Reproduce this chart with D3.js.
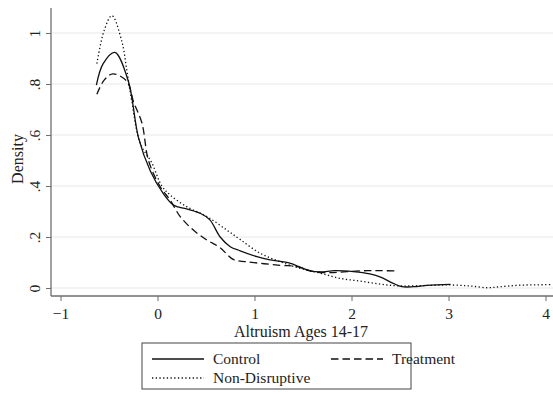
<!DOCTYPE html>
<html>
<head>
<meta charset="utf-8">
<script src="https://cdn.jsdelivr.net/npm/d3@7"></script>
<style>
  body { margin: 0; background: #fff; }
  svg { display: block; font-family: "Liberation Serif", "Times New Roman", serif; }
  svg text { font-family: "Liberation Serif", "Times New Roman", serif; }
</style>
</head>
<body>
<div id="chart"></div>
<script>
// Kernel density estimates (x = altruism score, y = density)
const controlX = [-0.63, -0.56, -0.44, -0.30, -0.196, -0.075, 0.06, 0.165, 0.30, 0.44, 0.54, 0.646, 0.75, 0.853, 1.025, 1.16, 1.37, 1.574, 1.68, 1.83, 2.02, 2.19, 2.30, 2.43, 2.52, 2.64, 2.78, 3.02];
const controlY = [0.796, 0.88, 0.924, 0.81, 0.59, 0.46, 0.37, 0.325, 0.31, 0.293, 0.267, 0.20, 0.162, 0.146, 0.123, 0.11, 0.097, 0.067, 0.063, 0.068, 0.064, 0.055, 0.043, 0.018, 0.005, 0.005, 0.01, 0.014];

const treatmentX = [-0.625, -0.55, -0.46, -0.315, -0.247, -0.16, -0.093, 0.028, 0.13, 0.234, 0.37, 0.51, 0.646, 0.78, 0.92, 1.265, 1.44, 1.61, 1.78, 1.95, 2.16, 2.30, 2.45];
const treatmentY = [0.76, 0.815, 0.84, 0.81, 0.73, 0.646, 0.50, 0.397, 0.345, 0.28, 0.227, 0.188, 0.158, 0.112, 0.103, 0.089, 0.084, 0.064, 0.06, 0.064, 0.068, 0.068, 0.067];

const nondisX = [-0.625, -0.55, -0.47, -0.367, -0.315, -0.264, -0.178, -0.058, 0.045, 0.13, 0.30, 0.51, 0.715, 0.853, 1.06, 1.265, 1.47, 1.68, 1.88, 2.09, 2.30, 2.50, 2.78, 3.02, 3.22, 3.40, 3.53, 3.74, 4.05];
const nondisY = [0.88, 1.01, 1.068, 0.966, 0.85, 0.73, 0.567, 0.49, 0.40, 0.365, 0.319, 0.28, 0.227, 0.19, 0.136, 0.103, 0.077, 0.058, 0.038, 0.027, 0.015, 0.008, 0.01, 0.012, 0.008, 0.001, 0.005, 0.011, 0.013];

const xTicks = [-1, 0, 1, 2, 3, 4];
const yTicks = [0, 0.2, 0.4, 0.6, 0.8, 1];
const yTickLabels = ["0", ".2", ".4", ".6", ".8", "1"];

const seriesNames = ["Control", "Treatment", "Non-Disruptive"];

const zip = (xs, ys) => xs.map((x, i) => ({ x: x, y: ys[i] }));
const series = [
    { name: seriesNames[0], values: zip(controlX, controlY), dash: null },
    { name: seriesNames[1], values: zip(treatmentX, treatmentY), dash: "7.5,4" },
    { name: seriesNames[2], values: zip(nondisX, nondisY), dash: "1.3,2.4" }
];

const dimensions = {
    width: 553,
    height: 394,
    margin: { top: 8, right: 0, bottom: 98, left: 51 }
};
dimensions.boundedWidth = dimensions.width - dimensions.margin.left - dimensions.margin.right;
dimensions.boundedHeight = dimensions.height - dimensions.margin.top - dimensions.margin.bottom;

const svg = d3.select("#chart").append("svg")
    .attr("width", dimensions.width)
    .attr("height", dimensions.height);

const bounds = svg.append("g")
    .attr("transform", `translate(${dimensions.margin.left}, ${dimensions.margin.top})`);

// scales: -1 at px 60.5, 4 at px 545.5 ; 0 at px 288, 1 at px 33
const xScale = d3.scaleLinear()
    .domain([-1, 4])
    .range([60.5 - dimensions.margin.left, 545.5 - dimensions.margin.left]);

const yScale = d3.scaleLinear()
    .domain([0, 1])
    .range([288 - dimensions.margin.top, 33 - dimensions.margin.top]);

// grid lines
bounds.append("g")
    .selectAll("line")
    .data(yTicks)
    .join("line")
    .attr("x1", 0)
    .attr("x2", dimensions.boundedWidth)
    .attr("y1", d => yScale(d))
    .attr("y2", d => yScale(d))
    .attr("stroke", "#e8e8e8")
    .attr("stroke-width", 1.2);

// curves
const lineGenerator = d3.line()
    .x(d => xScale(d.x))
    .y(d => yScale(d.y))
    .curve(d3.curveCatmullRom.alpha(0.5));

bounds.selectAll(".curve")
    .data(series)
    .join("path")
    .attr("class", "curve")
    .attr("d", d => lineGenerator(d.values))
    .attr("fill", "none")
    .attr("stroke", "#111")
    .attr("stroke-width", 1.3)
    .attr("stroke-dasharray", d => d.dash);

// axes
const axisColor = "#6e6e6e";
const fontFam = "Liberation Serif, Times New Roman, serif";

const yAxis = bounds.append("g")
    .call(d3.axisLeft(yScale).tickValues(yTicks).tickSize(5).tickPadding(6)
        .tickFormat((d, i) => yTickLabels[i]))
    .attr("font-family", fontFam);
yAxis.select(".domain").remove();
yAxis.selectAll(".tick line").attr("stroke", axisColor);
yAxis.selectAll(".tick text")
    .attr("font-size", 15.5)
    .attr("fill", "#222")
    .attr("text-anchor", "middle")
    .attr("transform", "rotate(-90)")
    .attr("x", 0)
    .attr("y", -11)
    .attr("dy", "0");

const xAxis = bounds.append("g")
    .attr("transform", `translate(0, ${dimensions.boundedHeight})`)
    .call(d3.axisBottom(xScale).tickValues(xTicks).tickSize(5).tickPadding(6.5)
        .tickFormat(d3.format("d")))
    .attr("font-family", fontFam);
xAxis.select(".domain").remove();
xAxis.selectAll(".tick line").attr("stroke", axisColor);
xAxis.selectAll(".tick text").attr("font-size", 15.5).attr("fill", "#222");

// axis lines
bounds.append("line")
    .attr("x1", 0).attr("x2", 0)
    .attr("y1", 0).attr("y2", dimensions.boundedHeight)
    .attr("stroke", axisColor).attr("stroke-width", 1.3);
bounds.append("line")
    .attr("x1", 0).attr("x2", dimensions.boundedWidth)
    .attr("y1", dimensions.boundedHeight).attr("y2", dimensions.boundedHeight)
    .attr("stroke", axisColor).attr("stroke-width", 1.3);

// axis titles
svg.append("text")
    .attr("x", 301)
    .attr("y", 337)
    .attr("text-anchor", "middle")
    .attr("font-size", 16)
    .attr("fill", "#222")
    .text("Altruism Ages 14-17");

svg.append("text")
    .attr("transform", "translate(23, 159) rotate(-90)")
    .attr("text-anchor", "middle")
    .attr("font-size", 16)
    .attr("fill", "#222")
    .text("Density");

// legend
const legend = svg.append("g").attr("transform", "translate(142, 343)");
legend.append("rect")
    .attr("width", 269)
    .attr("height", 46)
    .attr("fill", "#fff")
    .attr("stroke", "#444")
    .attr("stroke-width", 1);

const legendPos = [
    { x: 10, y: 16 },
    { x: 189, y: 16 },
    { x: 10, y: 35 }
];

const legendItems = legend.selectAll(".legend-item")
    .data(series)
    .join("g")
    .attr("class", "legend-item")
    .attr("transform", (d, i) => `translate(${legendPos[i].x}, ${legendPos[i].y})`);

legendItems.append("line")
    .attr("x1", 0).attr("x2", 52)
    .attr("y1", 0).attr("y2", 0)
    .attr("stroke", "#111")
    .attr("stroke-width", 1.3)
    .attr("stroke-dasharray", d => d.dash);

legendItems.append("text")
    .attr("x", 61)
    .attr("y", 5)
    .attr("font-size", 15.5)
    .attr("fill", "#222")
    .text(d => d.name);
</script>
</body>
</html>
